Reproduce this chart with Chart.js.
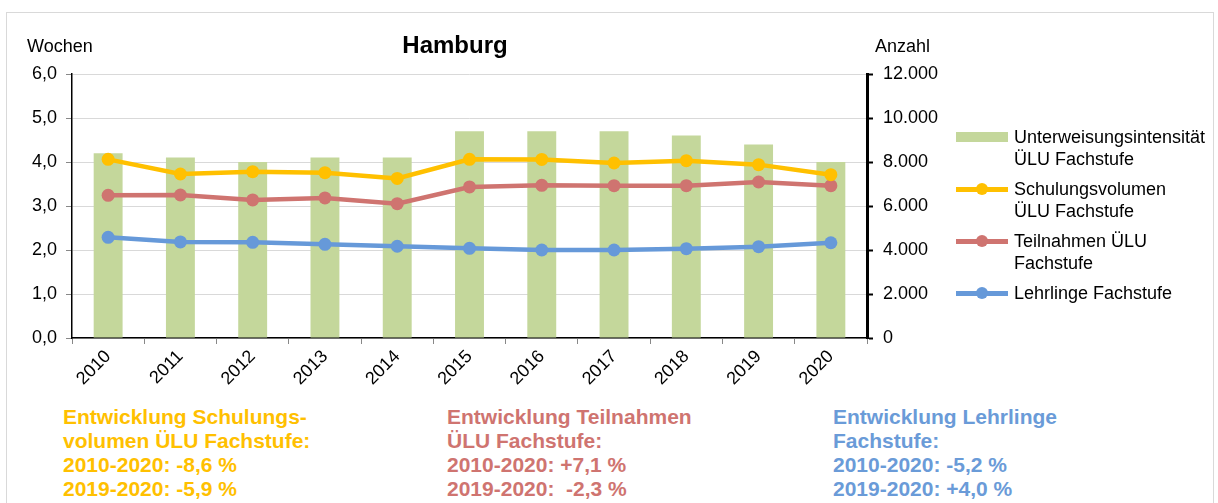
<!DOCTYPE html>
<html>
<head>
<meta charset="utf-8">
<script src="https://cdn.jsdelivr.net/npm/chart.js@4/dist/chart.umd.min.js"></script>
<style>
  body { margin: 0; background: #fff; font-family: "Liberation Sans", Arial, sans-serif; }
  #wrap { position: relative; width: 1218px; height: 503px; overflow: hidden; }
  #frame { position: absolute; left: 6px; top: 12px; width: 1206px; height: 520px; border: 1px solid #d9d9d9; }
  #chartBox { position: absolute; left: 0; top: 0; width: 1218px; height: 400px; }
  .lbl { position: absolute; font-size: 18px; color: #000; }
  #title { position: absolute; left: 350px; width: 210px; top: 31px; text-align: center; font-size: 24px; font-weight: bold; }
  .leg { position: absolute; left: 956px; width: 262px; }
  .leg .txt { position: absolute; left: 58px; top: 0; font-size: 18px; line-height: 22px; white-space: nowrap; }
  .sw { position: absolute; left: 0; width: 52px; }
  .dot { position: absolute; left: 20px; width: 12px; height: 12px; border-radius: 50%; }
  .dev { position: absolute; top: 405px; font-size: 21px; font-weight: bold; line-height: 24px; white-space: nowrap; }
</style>
</head>
<body>
<div id="wrap">
  <div id="frame"></div>
  <div id="chartBox"><canvas id="chart" width="1218" height="400"></canvas></div>
  <div class="lbl" style="left:27px; top:36px;">Wochen</div>
  <div class="lbl" style="left:875px; top:36px;">Anzahl</div>
  <div id="title">Hamburg</div>
  <div id="legend"></div>
  <div class="dev" style="left:63px; color:#ffc000;">Entwicklung Schulungs-<br>volumen ÜLU Fachstufe:<br>2010-2020: -8,6 %<br>2019-2020: -5,9 %</div>
  <div class="dev" style="left:447px; color:#cf7470;">Entwicklung Teilnahmen<br>ÜLU Fachstufe:<br>2010-2020: +7,1 %<br>2019-2020: &nbsp;-2,3 %</div>
  <div class="dev" style="left:833px; color:#6a9bd8;">Entwicklung Lehrlinge<br>Fachstufe:<br>2010-2020: -5,2 %<br>2019-2020: +4,0 %</div>
</div>
<script>
// years on the x axis
var years = ['2010', '2011', '2012', '2013', '2014', '2015', '2016', '2017', '2018', '2019', '2020'];

// Unterweisungsintensitaet in Wochen (left axis)
var intensitaet = [4.2, 4.1, 4.0, 4.1, 4.1, 4.7, 4.7, 4.7, 4.6, 4.4, 4.0];

// counts (right axis)
var schulungsvolumen = [8120, 7455, 7560, 7515, 7255, 8120, 8115, 7955, 8060, 7880, 7425];
var teilnahmen = [6485, 6500, 6275, 6365, 6105, 6865, 6940, 6925, 6925, 7090, 6925];
var lehrlinge = [4575, 4365, 4350, 4260, 4170, 4075, 4000, 4000, 4060, 4150, 4330];

var seriesNames = [['Unterweisungsintensität', 'ÜLU Fachstufe'], ['Schulungsvolumen', 'ÜLU Fachstufe'], ['Teilnahmen ÜLU', 'Fachstufe'], ['Lehrlinge Fachstufe']];

var green = '#c4d79b';
var yellow = '#ffc000';
var red = '#cf7470';
var blue = '#6699d9';

function tausend(v) { // 12000 -> 12.000
  var s = String(v);
  return s.replace(/\B(?=(\d{3})+(?!\d))/g, '.');
}

function lineSet(label, data, color) {
  return {
    type: 'line', label: label, data: data, yAxisID: 'y1',
    borderColor: color, backgroundColor: color, borderWidth: 4.5,
    pointRadius: 6.5, pointBackgroundColor: color, pointBorderWidth: 0,
    tension: 0, order: 1
  };
}

new Chart(document.getElementById('chart'), {
  type: 'bar',
  data: {
    labels: years,
    datasets: [
      lineSet(seriesNames[1].join(' '), schulungsvolumen, yellow),
      lineSet(seriesNames[2].join(' '), teilnahmen, red),
      lineSet(seriesNames[3].join(' '), lehrlinge, blue),
      { type: 'bar', label: seriesNames[0].join(' '), data: intensitaet, yAxisID: 'y',
        backgroundColor: green, barPercentage: 0.8, categoryPercentage: 0.5, order: 5 }
    ]
  },
  options: {
    responsive: false,
    animation: false,
    layout: { padding: { top: 74, right: 271, bottom: 0, left: 0 } },
    plugins: { legend: { display: false }, tooltip: { enabled: false }, title: { display: false } },
    scales: {
      x: {
        offset: true,
        grid: { display: true, drawOnChartArea: false, offset: true, tickLength: 6, tickColor: '#888' },
        border: { color: '#000', width: 1.5 },
        ticks: { minRotation: 45, maxRotation: 45, color: '#000', font: { family: 'Liberation Sans', size: 18 }, padding: 2 },
        afterFit: function (s) { s.height = 62; }
      },
      y: {
        position: 'left', min: 0, max: 6,
        ticks: { stepSize: 1, color: '#000', padding: 9, font: { family: 'Liberation Sans', size: 18 },
          callback: function (v) { return v.toFixed(1).replace('.', ','); } },
        grid: { color: '#d9d9d9', tickColor: '#888', tickLength: 6, lineWidth: 1 },
        border: { color: '#000', width: 1.5 },
        afterFit: function (s) { s.width = 72; }
      },
      y1: {
        position: 'right', min: 0, max: 12000,
        ticks: { stepSize: 2000, color: '#000', padding: 10, font: { family: 'Liberation Sans', size: 18 },
          callback: function (v) { return tausend(v); } },
        grid: { drawOnChartArea: false, tickColor: '#000', tickLength: 6, tickWidth: 2 },
        border: { color: '#000', width: 3 },
        afterFit: function (s) { s.width = 80; }
      }
    }
  }
});

// legend on the right side, built as html
var legendTops = [126, 178, 230, 282];
var legendColors = [green, yellow, red, blue];
var html = '';
for (var i = 0; i < seriesNames.length; i++) {
  var sw;
  if (i == 0) {
    sw = '<div class="sw" style="top:6px;height:10px;background:' + green + '"></div>';
  } else {
    sw = '<div class="sw" style="top:9px;height:4.5px;background:' + legendColors[i] + '"></div>' +
         '<div class="dot" style="top:5px;background:' + legendColors[i] + '"></div>';
  }
  html += '<div class="leg" style="top:' + legendTops[i] + 'px">' + sw +
          '<div class="txt">' + seriesNames[i].join('<br>') + '</div></div>';
}
document.getElementById('legend').innerHTML = html;
</script>
</body>
</html>
